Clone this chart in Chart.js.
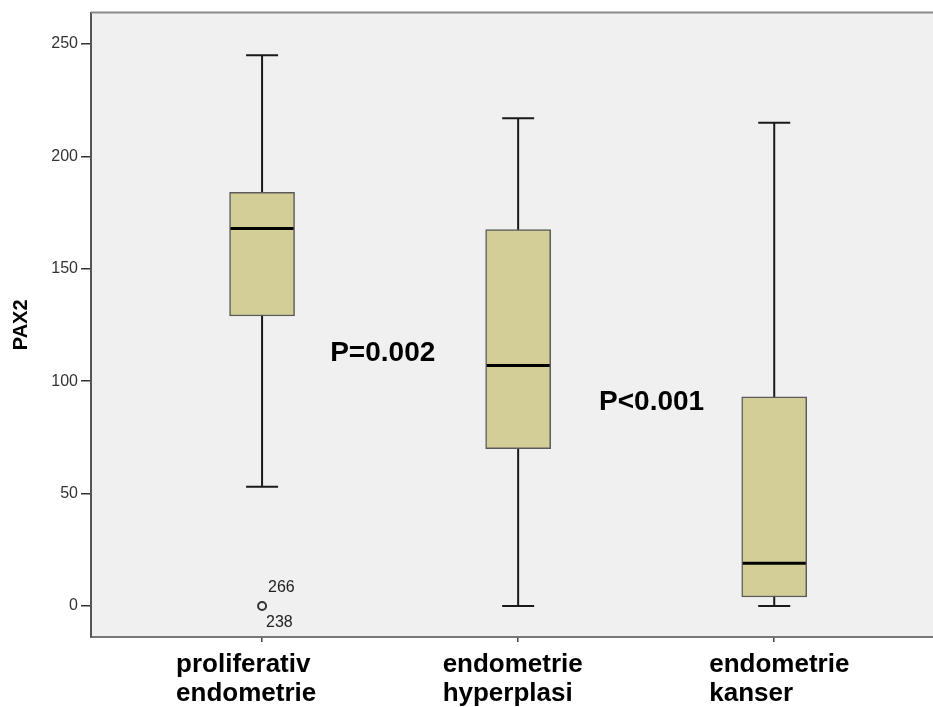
<!DOCTYPE html>
<html>
<head>
<meta charset="utf-8">
<script src="https://cdn.jsdelivr.net/npm/chart.js@4/dist/chart.umd.min.js"></script>
<style>
  html, body { margin: 0; padding: 0; background: #fff; }
</style>
</head>
<body>
<canvas id="chart" width="933" height="707"></canvas>
<script>
// Box plot values (PAX2 by group)
const categories = [["proliferativ", "endometrie"], ["endometrie", "hyperplasi"], ["endometrie", "kanser"]];
const whiskerHigh = [245, 217, 215];
const q3Values = [184, 167.5, 93];
const medians = [168, 107, 19];
const q1Values = [129, 70, 4];
const whiskerLow = [53, 0, 0];
const outlierGroup = [1];
const outlierValue = [0];
const outlierIds = [["266", "238"]];
const yTicks = [0, 50, 100, 150, 200, 250];
const pTexts = ["P=0.002", "P<0.001"];

const FONT = "'Liberation Sans', Arial, sans-serif";

const boxParts = {
    id: "boxParts",
    beforeDraw(chart) {
        const { ctx, chartArea: a } = chart;
        ctx.save();
        ctx.fillStyle = "#f0f0f0";
        ctx.fillRect(a.left, a.top, a.right - a.left, a.bottom - a.top);
        ctx.restore();
    },
    beforeDatasetsDraw(chart) {
        // whiskers go behind the boxes
        const { ctx, scales: { x, y } } = chart;
        ctx.save();
        ctx.strokeStyle = "#1a1a1a";
        ctx.lineWidth = 2;
        categories.forEach((c, i) => {
            const cx = x.getPixelForValue(i + 1);
            const hi = y.getPixelForValue(whiskerHigh[i]);
            const lo = y.getPixelForValue(whiskerLow[i]);
            ctx.beginPath();
            ctx.moveTo(cx, hi);
            ctx.lineTo(cx, lo);
            ctx.moveTo(cx - 16, hi);
            ctx.lineTo(cx + 16, hi);
            ctx.moveTo(cx - 16, lo);
            ctx.lineTo(cx + 16, lo);
            ctx.stroke();
        });
        ctx.restore();
    },
    afterDatasetsDraw(chart) {
        const { ctx, chartArea: a, scales: { x, y } } = chart;
        const bars = chart.getDatasetMeta(0).data;
        ctx.save();

        // medians
        ctx.strokeStyle = "#000";
        ctx.lineWidth = 3;
        bars.forEach((bar, i) => {
            const my = y.getPixelForValue(medians[i]);
            ctx.beginPath();
            ctx.moveTo(bar.x - bar.width / 2 + 1, my);
            ctx.lineTo(bar.x + bar.width / 2 - 1, my);
            ctx.stroke();
        });

        // top frame line
        ctx.strokeStyle = "#8a8a8a";
        ctx.lineWidth = 2;
        ctx.beginPath();
        ctx.moveTo(a.left, a.top);
        ctx.lineTo(a.right, a.top);
        ctx.stroke();

        // case numbers next to the outlier
        ctx.fillStyle = "#222";
        ctx.font = "16px " + FONT;
        ctx.textAlign = "left";
        ctx.textBaseline = "alphabetic";
        outlierGroup.forEach((g, i) => {
            const px = x.getPixelForValue(g);
            const py = y.getPixelForValue(outlierValue[i]);
            ctx.fillText(outlierIds[i][0], px + 6, py - 14);
            ctx.fillText(outlierIds[i][1], px + 4, py + 21);
        });

        // p-values
        ctx.fillStyle = "#000";
        ctx.font = "bold 28px " + FONT;
        ctx.fillText(pTexts[0], x.getPixelForValue(1.266), y.getPixelForValue(109));
        ctx.fillText(pTexts[1], x.getPixelForValue(2.316), y.getPixelForValue(87));

        // category labels, lines left aligned
        ctx.font = "bold 26px " + FONT;
        categories.forEach((lines, i) => {
            const left = x.getPixelForValue(i + 1) - 86 + i * 10.5;
            lines.forEach((t, j) => {
                ctx.fillText(t, left, a.bottom + 35 + j * 29);
            });
        });
        ctx.restore();
    },
};

new Chart(document.getElementById("chart"), {
    type: "bar",
    data: {
        datasets: [
            {
                type: "bar",
                data: categories.map((c, i) => ({ x: i + 1, y: [q1Values[i], q3Values[i]] })),
                backgroundColor: "#d3ce98",
                borderColor: "#5a5a5a",
                borderWidth: 1.5,
                borderSkipped: false,
                barThickness: 65,
            },
            {
                type: "scatter",
                data: outlierGroup.map((g, i) => ({ x: g, y: outlierValue[i] })),
                pointRadius: 4,
                pointBorderWidth: 2,
                pointBorderColor: "#333",
                pointBackgroundColor: "rgba(0,0,0,0)",
            },
        ],
    },
    options: {
        responsive: false,
        animation: false,
        layout: { autoPadding: false, padding: { top: 12, left: 0, right: 0, bottom: 0 } },
        plugins: {
            legend: { display: false },
            tooltip: { enabled: false },
        },
        scales: {
            x: {
                type: "linear",
                min: 0.332,
                max: 3.62,
                offset: false,
                afterBuildTicks: (s) => { s.ticks = categories.map((c, i) => ({ value: i + 1 })); },
                afterFit: (s) => { s.height = 70; },
                ticks: { display: false },
                grid: { offset: false, drawOnChartArea: false, drawTicks: true, tickLength: 5, color: "#444", lineWidth: 1.5 },
                border: { display: true, color: "#777", width: 2 },
            },
            y: {
                min: -13.8,
                max: 264,
                afterBuildTicks: (s) => { s.ticks = yTicks.map((v) => ({ value: v })); },
                afterFit: (s) => { s.width = 91; },
                ticks: { font: { family: FONT, size: 16 }, color: "#333", padding: 3 },
                grid: { drawOnChartArea: false, drawTicks: true, tickLength: 10, color: "#333", lineWidth: 1.5 },
                border: { display: true, color: "#555", width: 2 },
                title: {
                    display: true,
                    text: "PAX2",
                    color: "#000",
                    font: { family: FONT, size: 20, weight: "bold" },
                    padding: { top: 9, bottom: 0 },
                },
            },
        },
    },
    plugins: [boxParts],
});
</script>
</body>
</html>
